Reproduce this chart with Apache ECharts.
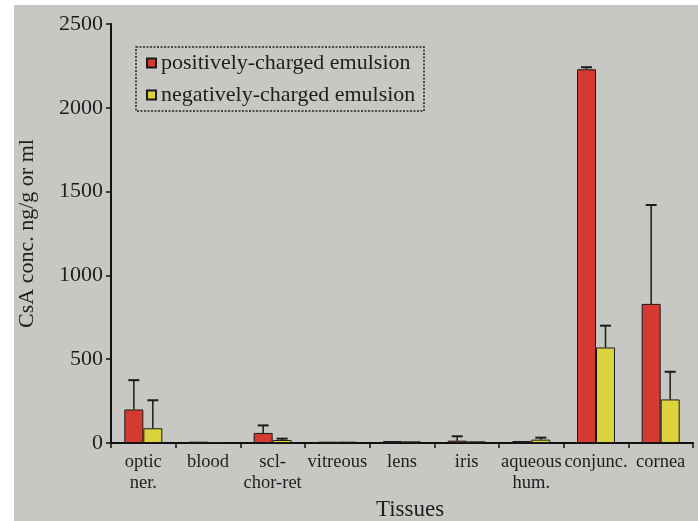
<!DOCTYPE html>
<html>
<head>
<meta charset="utf-8">
<script src="https://cdn.jsdelivr.net/npm/echarts@6/dist/echarts.min.js"></script>
<style>
html,body{margin:0;padding:0;background:#ffffff;}
#chart{width:698px;height:521px;}
</style>
</head>
<body>
<div id="chart"></div>
<script>
const categories = ['optic\nner.', 'blood', 'scl-\nchor-ret', 'vitreous', 'lens', 'iris', 'aqueous\nhum.', 'conjunc.', 'cornea'];
const positiveValues = [200, 8, 60, 8, 12, 14, 12, 2230, 830];
const positiveSD     = [175, 0, 45, 0, 0, 26, 0, 12, 590];
const negativeValues = [88, 5, 18, 8, 10, 10, 20, 570, 260];
const negativeSD     = [167, 0, 8, 0, 0, 0, 12, 130, 165];
const yTicks = [0, 500, 1000, 1500, 2000, 2500];
const seriesNames = ['positively-charged emulsion', 'negatively-charged emulsion'];

const FONT = '"Liberation Serif", "DejaVu Serif", serif';
const TXT = '#1e1e1e';
const BG = '#c7c7c4';

function errData(vals, sds) {
  return vals.map((v, i) => [i, v, v + sds[i]]);
}
function errRender(offset) {
  return function (params, api) {
    const x = api.value(0), v = api.value(1), hi = api.value(2);
    if (!(hi > v)) return null;
    const p0 = api.coord([x, v]);
    const p1 = api.coord([x, hi]);
    const cx = p0[0] + offset;
    return {
      type: 'group',
      children: [
        { type: 'line', shape: { x1: cx, y1: p0[1], x2: cx, y2: p1[1] }, style: { stroke: '#1a1a1a', lineWidth: 1.5 } },
        { type: 'line', shape: { x1: cx - 5.5, y1: p1[1], x2: cx + 5.5, y2: p1[1] }, style: { stroke: '#1a1a1a', lineWidth: 2 } }
      ]
    };
  };
}

const chart = echarts.init(document.getElementById('chart'));
chart.setOption({
  backgroundColor: '#ffffff',
  animation: false,
  graphic: [
    { type: 'rect', z: -10, shape: { x: 14, y: 5, width: 684, height: 516 }, style: { fill: BG } },
    { type: 'rect', z: 5, shape: { x: 136, y: 47, width: 288, height: 64 }, style: { fill: 'none', stroke: '#222', lineWidth: 1.5, lineDash: [2, 1.5] } }
  ],
  legend: {
    orient: 'vertical',
    left: 146,
    top: 52,
    padding: 0,
    itemGap: 10,
    itemWidth: 9,
    itemHeight: 9,
    icon: 'rect',
    data: seriesNames,
    textStyle: { fontFamily: FONT, fontSize: 22, color: TXT, lineHeight: 22 }
  },
  grid: { left: 111, right: 5, top: 24, bottom: 78, containLabel: false, outerBoundsMode: 'none' },
  xAxis: {
    type: 'category',
    data: categories,
    boundaryGap: true,
    axisLine: { lineStyle: { color: '#111', width: 2 } },
    axisTick: { show: true, alignWithLabel: false, length: 5, lineStyle: { color: '#111', width: 1.5 } },
    axisLabel: { fontFamily: FONT, fontSize: 18.5, color: TXT, lineHeight: 21, margin: 9, interval: 0 },
    name: 'Tissues',
    nameLocation: 'middle',
    nameGap: 53,
    nameTextStyle: { fontFamily: FONT, fontSize: 23, color: TXT, padding: [0, 0, 0, 16] }
  },
  yAxis: {
    type: 'value',
    min: yTicks[0],
    max: yTicks[yTicks.length - 1],
    interval: 500,
    axisLine: { show: true, lineStyle: { color: '#111', width: 2 } },
    axisTick: { show: true, length: 5, lineStyle: { color: '#111', width: 1.5 } },
    splitLine: { show: false },
    axisLabel: { fontFamily: FONT, fontSize: 22, color: TXT, margin: 8, formatter: v => String(v) },
    name: 'CsA conc. ng/g or ml',
    nameLocation: 'middle',
    nameGap: 73,
    nameTextStyle: { fontFamily: FONT, fontSize: 22, color: TXT }
  },
  series: [
    {
      name: seriesNames[0], type: 'bar', data: positiveValues,
      barWidth: 19, barGap: '0%',
      itemStyle: { color: '#d43a30', borderColor: '#1a1a1a', borderWidth: 1 }
    },
    {
      name: seriesNames[1], type: 'bar', data: negativeValues,
      barWidth: 19, barGap: '0%',
      itemStyle: { color: '#dbd23e', borderColor: '#1a1a1a', borderWidth: 1 }
    },
    {
      type: 'custom', data: errData(positiveValues, positiveSD), renderItem: errRender(-9.5), z: 3,
      encode: { x: 0, y: [1, 2] }
    },
    {
      type: 'custom', data: errData(negativeValues, negativeSD), renderItem: errRender(9.5), z: 3,
      encode: { x: 0, y: [1, 2] }
    }
  ]
});
</script>
</body>
</html>
